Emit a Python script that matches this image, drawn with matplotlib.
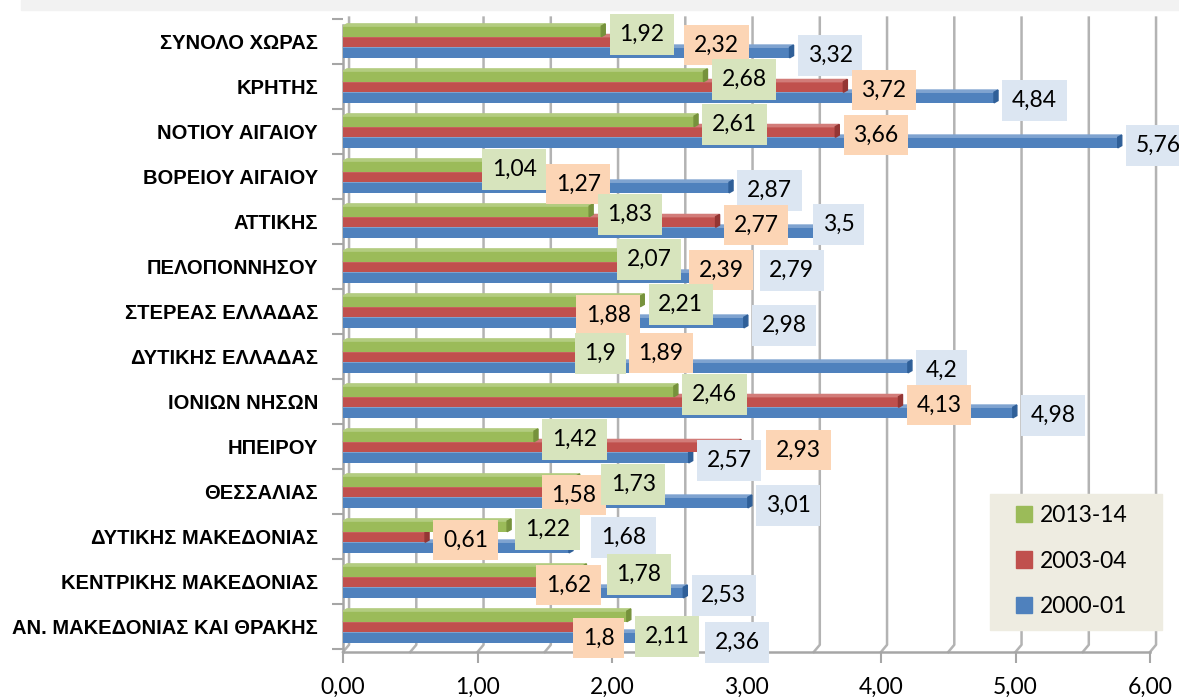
import numpy as np
import matplotlib.pyplot as plt
from matplotlib.patches import Patch, Polygon, Rectangle

# regions, top to bottom
regions = ['ΣΥΝΟΛΟ ΧΩΡΑΣ', 'ΚΡΗΤΗΣ', 'ΝΟΤΙΟΥ ΑΙΓΑΙΟΥ', 'ΒΟΡΕΙΟΥ ΑΙΓΑΙΟΥ', 'ΑΤΤΙΚΗΣ',
           'ΠΕΛΟΠΟΝΝΗΣΟΥ', 'ΣΤΕΡΕΑΣ ΕΛΛΑΔΑΣ', 'ΔΥΤΙΚΗΣ ΕΛΛΑΔΑΣ', 'ΙΟΝΙΩΝ ΝΗΣΩΝ',
           'ΗΠΕΙΡΟΥ', 'ΘΕΣΣΑΛΙΑΣ', 'ΔΥΤΙΚΗΣ ΜΑΚΕΔΟΝΙΑΣ', 'ΚΕΝΤΡΙΚΗΣ ΜΑΚΕΔΟΝΙΑΣ',
           'ΑΝ. ΜΑΚΕΔΟΝΙΑΣ ΚΑΙ ΘΡΑΚΗΣ']
v2013 = [1.92, 2.68, 2.61, 1.04, 1.83, 2.07, 2.21, 1.90, 2.46, 1.42, 1.73, 1.22, 1.78, 2.11]
v2003 = [2.32, 3.72, 3.66, 1.27, 2.77, 2.39, 1.88, 1.89, 4.13, 2.93, 1.58, 0.61, 1.62, 1.80]
v2000 = [3.32, 4.84, 5.76, 2.87, 3.50, 2.79, 2.98, 4.20, 4.98, 2.57, 3.01, 1.68, 2.53, 2.36]
series = ['2013-14', '2003-04', '2000-01']
xticks = [0, 1, 2, 3, 4, 5, 6]

colors = ['#9bbb59', '#c0504d', '#4f81bd']
side_colors = ['#76923c', '#943634', '#2f5f98']
top_colors = ['#b3cc80', '#d27c79', '#7fa3d0']
box_colors = ['#d7e4bd', '#fcd5b5', '#dce6f2']

# hand placed label tweaks in pixels (right, down)
nudge = {(0, 1): (21, 0), (3, 0): (-9, 0), (3, 1): (24, 4), (4, 2): (-9, -11),
         (5, 0): (-13, 0), (5, 1): (16, 0), (5, 2): (33, -10), (6, 1): (-28, 0),
         (7, 0): (-32, 4), (7, 1): (23, -7), (9, 1): (21, 0), (10, 0): (17, 0),
         (10, 1): (-22, 0), (11, 2): (14, -13), (12, 0): (16, 0), (12, 1): (-33, 0),
         (13, 0): (0, 17), (13, 1): (-20, 8), (13, 2): (36, 2)}

W, H = 1179, 697
fig = plt.figure(figsize=(W / 100, H / 100), dpi=100)
fig.patches.append(Rectangle((21 / W, 1 - 10 / H), 1, 10 / H, transform=fig.transFigure,
                             color='#f2f2f2', zorder=0))

ax = fig.add_axes([343 / W, 1 - 652 / H, 807 / W, 638 / H])
y_front, y_top = 13.556, -0.622
ax.set_xlim(0, 6)
ax.set_ylim(y_front, y_top)
for s in ax.spines.values():
    s.set_visible(False)

y = np.arange(len(regions))
h = 0.235
dx, dy = 0.03, 0.05          # bar depth
gx, gy = 0.045, 0.16         # wall depth

# back wall gridlines with floor diagonals
for g in np.arange(0, 6.01, 0.5):
    ax.plot([g + gx, g + gx, g], [y_top + 0.08, y_front - gy, y_front], color='#b3b3b3',
            lw=1.8, clip_on=False, zorder=1)
ax.plot([0, 0], [y_top + 0.08 + gy, y_front], color='#a6a6a6', lw=1.8, clip_on=False, zorder=1)
ax.plot([0, 6], [y_front, y_front], color='#a6a6a6', lw=1.8, clip_on=False, zorder=1)

data = [v2013, v2003, v2000]
offsets = [-h, 0, h]
for k in [2, 1, 0]:
    vals = data[k]
    yc = y + offsets[k]
    ax.barh(yc, vals, height=h, color=colors[k], zorder=3)
    for v, yy in zip(vals, yc):
        yt, yb = yy - h / 2, yy + h / 2
        ax.add_patch(Polygon([(0, yt), (dx, yt - dy), (v + dx, yt - dy), (v, yt)],
                             color=top_colors[k], zorder=3, clip_on=False))
        ax.add_patch(Polygon([(v, yb), (v + dx, yb - dy), (v + dx, yt - dy), (v, yt)],
                             color=side_colors[k], zorder=3, clip_on=False))

for k in [2, 1, 0]:
    for i, v in enumerate(data[k]):
        ndx, ndy = nudge.get((i, k), (0, 0))
        ax.annotate(f'{v:g}'.replace('.', ','), xy=(v, y[i] + offsets[k]),
                    xytext=(18 + ndx, -3 - ndy), textcoords='offset pixels',
                    ha='left', va='center', fontsize=16.5, family=['Lato', 'DejaVu Sans'],
                    annotation_clip=False, zorder=5,
                    bbox=dict(boxstyle='square,pad=0.42', fc=box_colors[k], ec='none'))

ax.set_yticks(y)
ax.set_yticklabels(regions, fontsize=14.5, fontweight='bold',
                   family=['Liberation Sans', 'DejaVu Sans'])
ax.set_yticks(np.arange(-0.5, 14, 1), minor=True)
ax.tick_params(axis='y', which='major', length=0, pad=18)
ax.tick_params(axis='y', which='minor', length=8, width=1.5, color='#a6a6a6', left=True)

ax.set_xticks(xticks)
ax.set_xticklabels([f'{t:.2f}'.replace('.', ',') for t in xticks], fontsize=16.5,
                   family=['Lato', 'DejaVu Sans'])
ax.tick_params(axis='x', which='major', length=8, width=1.5, color='#a6a6a6', pad=10)

# legend panel
fig.patches.append(Rectangle((990 / W, 1 - 630 / H), 172 / W, 136 / H,
                             transform=fig.transFigure, color='#eeece1', zorder=4))
handles = [Patch(color=c) for c in colors]
leg = fig.legend(handles, series, loc='center left', bbox_to_anchor=(1016 / W, 1 - 561 / H),
                 bbox_transform=fig.transFigure, prop={'family': 'Lato', 'size': 16.5},
                 handlelength=0.7, handleheight=0.7, handletextpad=0.35,
                 labelspacing=1.05, borderpad=0, borderaxespad=0, frameon=False)
leg.set_zorder(5)

fig.savefig('out.png', dpi=100)
